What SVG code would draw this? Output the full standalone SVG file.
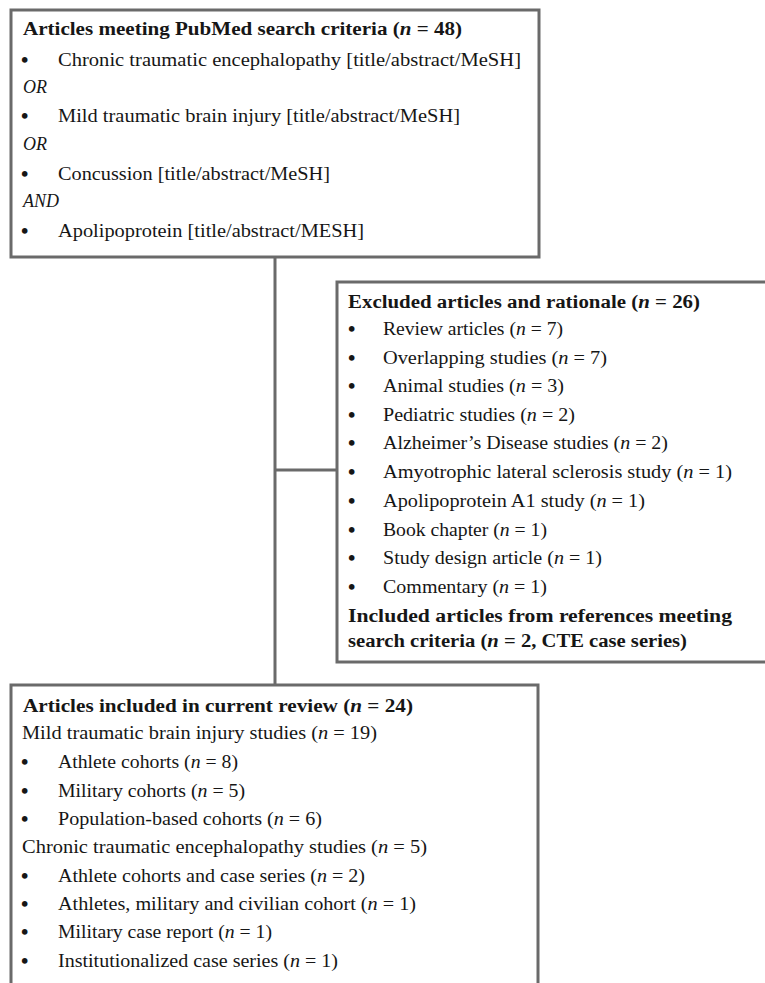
<svg xmlns="http://www.w3.org/2000/svg" width="765" height="983" viewBox="0 0 765 983">
<style>
.box{fill:#fff;stroke:#6a6a6a;stroke-width:3}
.con{fill:none;stroke:#6a6a6a;stroke-width:3}
text{font-family:"Liberation Serif","Times New Roman",serif;font-size:18px;fill:#161616}
.b{font-weight:bold}
.i{font-style:italic}
.d{font-size:21px;font-weight:bold}
</style>
<rect width="765" height="983" fill="#fff"/>
<g id="connectors">
<line class="con" x1="275" y1="257" x2="275" y2="685"/>
<line class="con" x1="275" y1="470" x2="337" y2="470"/>
</g>
<g id="search">
<rect class="box" x="11" y="10" width="528" height="247"/>
<text class="b" x="23" y="35" textLength="439" lengthAdjust="spacingAndGlyphs">Articles meeting PubMed search criteria (<tspan class="i">n</tspan> = 48)</text>
<text class="d" x="21" y="67">•</text>
<text x="58" y="66" textLength="463" lengthAdjust="spacingAndGlyphs">Chronic traumatic encephalopathy [title/abstract/MeSH]</text>
<text class="i" x="23" y="93">OR</text>
<text class="d" x="21" y="123">•</text>
<text x="58" y="122" textLength="402" lengthAdjust="spacingAndGlyphs">Mild traumatic brain injury [title/abstract/MeSH]</text>
<text class="i" x="23" y="150">OR</text>
<text class="d" x="21" y="181">•</text>
<text x="58" y="180" textLength="272" lengthAdjust="spacingAndGlyphs">Concussion [title/abstract/MeSH]</text>
<text class="i" x="23" y="207">AND</text>
<text class="d" x="21" y="238">•</text>
<text x="58" y="237" textLength="306" lengthAdjust="spacingAndGlyphs">Apolipoprotein [title/abstract/MESH]</text>
</g>
<g id="excluded">
<rect class="box" x="337" y="282" width="440" height="380"/>
<text class="b" x="348" y="308" textLength="352" lengthAdjust="spacingAndGlyphs">Excluded articles and rationale (<tspan class="i">n</tspan> = 26)</text>
<text class="d" x="348" y="336">•</text>
<text x="383" y="335" textLength="180" lengthAdjust="spacingAndGlyphs">Review articles (<tspan class="i">n</tspan> = 7)</text>
<text class="d" x="348" y="365">•</text>
<text x="383" y="364" textLength="224" lengthAdjust="spacingAndGlyphs">Overlapping studies (<tspan class="i">n</tspan> = 7)</text>
<text class="d" x="348" y="393">•</text>
<text x="383" y="392" textLength="181" lengthAdjust="spacingAndGlyphs">Animal studies (<tspan class="i">n</tspan> = 3)</text>
<text class="d" x="348" y="422">•</text>
<text x="383" y="421" textLength="192" lengthAdjust="spacingAndGlyphs">Pediatric studies (<tspan class="i">n</tspan> = 2)</text>
<text class="d" x="348" y="450">•</text>
<text x="383" y="449" textLength="285" lengthAdjust="spacingAndGlyphs">Alzheimer’s Disease studies (<tspan class="i">n</tspan> = 2)</text>
<text class="d" x="348" y="479">•</text>
<text x="383" y="478" textLength="349" lengthAdjust="spacingAndGlyphs">Amyotrophic lateral sclerosis study (<tspan class="i">n</tspan> = 1)</text>
<text class="d" x="348" y="508">•</text>
<text x="383" y="507" textLength="262" lengthAdjust="spacingAndGlyphs">Apolipoprotein A1 study (<tspan class="i">n</tspan> = 1)</text>
<text class="d" x="348" y="537">•</text>
<text x="383" y="536" textLength="164" lengthAdjust="spacingAndGlyphs">Book chapter (<tspan class="i">n</tspan> = 1)</text>
<text class="d" x="348" y="565">•</text>
<text x="383" y="564" textLength="219" lengthAdjust="spacingAndGlyphs">Study design article (<tspan class="i">n</tspan> = 1)</text>
<text class="d" x="348" y="594">•</text>
<text x="383" y="593" textLength="164" lengthAdjust="spacingAndGlyphs">Commentary (<tspan class="i">n</tspan> = 1)</text>
<text class="b" x="348" y="622" textLength="384" lengthAdjust="spacingAndGlyphs">Included articles from references meeting</text>
<text class="b" x="348" y="647" textLength="339" lengthAdjust="spacingAndGlyphs">search criteria (<tspan class="i">n</tspan> = 2, CTE case series)</text>
</g>
<g id="included">
<rect class="box" x="11" y="685" width="527" height="330"/>
<text class="b" x="23" y="712" textLength="390" lengthAdjust="spacingAndGlyphs">Articles included in current review (<tspan class="i">n</tspan> = 24)</text>
<text x="22" y="739" textLength="355" lengthAdjust="spacingAndGlyphs">Mild traumatic brain injury studies (<tspan class="i">n</tspan> = 19)</text>
<text class="d" x="21" y="769">•</text>
<text x="58" y="768" textLength="180" lengthAdjust="spacingAndGlyphs">Athlete cohorts (<tspan class="i">n</tspan> = 8)</text>
<text class="d" x="21" y="798">•</text>
<text x="58" y="797" textLength="187" lengthAdjust="spacingAndGlyphs">Military cohorts (<tspan class="i">n</tspan> = 5)</text>
<text class="d" x="21" y="826">•</text>
<text x="58" y="825" textLength="264" lengthAdjust="spacingAndGlyphs">Population-based cohorts (<tspan class="i">n</tspan> = 6)</text>
<text x="22" y="853" textLength="405" lengthAdjust="spacingAndGlyphs">Chronic traumatic encephalopathy studies (<tspan class="i">n</tspan> = 5)</text>
<text class="d" x="21" y="883">•</text>
<text x="58" y="882" textLength="307" lengthAdjust="spacingAndGlyphs">Athlete cohorts and case series (<tspan class="i">n</tspan> = 2)</text>
<text class="d" x="21" y="911">•</text>
<text x="58" y="910" textLength="358" lengthAdjust="spacingAndGlyphs">Athletes, military and civilian cohort (<tspan class="i">n</tspan> = 1)</text>
<text class="d" x="21" y="939">•</text>
<text x="58" y="938" textLength="214" lengthAdjust="spacingAndGlyphs">Military case report (<tspan class="i">n</tspan> = 1)</text>
<text class="d" x="21" y="968">•</text>
<text x="58" y="967" textLength="280" lengthAdjust="spacingAndGlyphs">Institutionalized case series (<tspan class="i">n</tspan> = 1)</text>
</g>
</svg>
